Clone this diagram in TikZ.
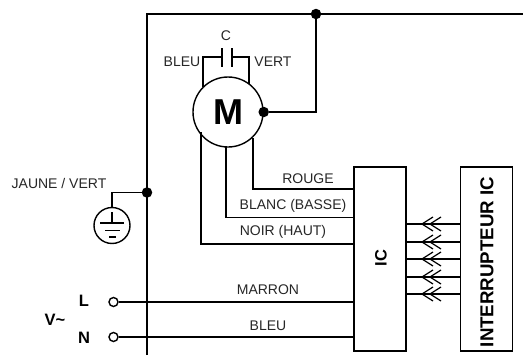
\documentclass[tikz,border=0pt]{standalone}
\usepackage{fontspec}
\setmainfont{Liberation Sans}
\tikzset{
  wire/.style={line width=1.4pt},
  lbl/.style={inner sep=0pt,font=\fontsize{14}{16}\selectfont,text=black!85},
  boldlbl/.style={inner sep=0pt,font=\fontsize{16.5}{18}\selectfont\bfseries},
  jdot/.style={circle,fill=black,inner sep=0pt,minimum size=10.5pt},
  term/.style={circle,draw,wire,fill=white,inner sep=0pt,minimum size=9pt},
  unit/.style={draw,wire,fill=white,minimum width=52pt,minimum height=184pt,inner sep=0pt}
}
\begin{document}
\begin{tikzpicture}[x=1pt,y=-1pt]
  \useasboundingbox (0,0) rectangle (523,359);
  % frame
  \coordinate (frameend) at (147,355);
  \coordinate (frametop) at (147,14);
  \coordinate (frameright) at (523,14);
  \draw [wire] (frameend) -- (frametop) -- (frameright);
  \node [jdot] (topdot) at (316,14) {};
  \node [jdot] (earthdot) at (147,192.5) {};

  % motor
  \node [draw,wire,circle,fill=white,minimum size=70pt,inner sep=0pt,font=\fontsize{36}{40}\selectfont\bfseries] (motor) at (228,112) {M};
  \node [jdot] (motordot) at (motor.east) {};
  \draw [wire] (motordot) -| (topdot);

  % capacitor
  \coordinate (capl) at (222,57);
  \coordinate (capr) at (232,57);
  \draw [wire] (222,48) -- (222,67) (232,48) -- (232,67);
  \draw [wire] (capl) -| (203,86.5);
  \draw [wire] (capr) -| (249,84);
  \node [lbl] (clabel) at (226,36) {C};
  \node [lbl] (bleucap) at (182,62) {BLEU};
  \node [lbl] (vertcap) at (273,62) {VERT};

  % boxes
  \node [unit] (ic) at (380,259) {};
  \node [boldlbl,rotate=90] (iclabel) at (381,258) {IC};
  \node [unit] (switch) at (486.5,259) {};
  \node [inner sep=0pt,rotate=90,font=\fontsize{18.7}{20}\selectfont\bfseries] (switchlabel) at (487,262) {INTERRUPTEUR IC};

  % motor to IC
  \draw [wire] (253,138) |- (354,189);
  \draw [wire] (226,147) |- (354,217.5);
  \draw [wire] (201,132) |- (354,244);
  \node [lbl] (rouge) at (308,179) {ROUGE};
  \node [lbl] (blanc) at (293,206) {BLANC (BASSE)};
  \node [lbl] (noir) at (283,232) {NOIR (HAUT)};

  % switch to IC
  \foreach \y in {224,242,259,277,294} {
    \coordinate (tip\y) at (422,\y);
    \draw [wire] (switch.west |- tip\y) -- (ic.east |- tip\y);
    \draw [line width=1.2pt] (433,\y-7) -- (tip\y) -- (433,\y+7);
    \draw [line width=1.2pt] (441,\y-7) -- (430,\y) -- (441,\y+7);
  }

  % earth
  \node [draw,wire,circle,minimum size=36pt,inner sep=0pt] (earth) at (112,225.5) {};
  \draw [wire] (earthdot) -| (earth.north);
  \draw [line width=1.2pt] (112,212) -- (112,223);
  \draw [line width=1.2pt] (100,223) -- (124,223) (105,230.5) -- (120,230.5) (109,237) -- (116,237);
  \node [lbl] (jaune) at (59,183) {JAUNE / VERT};

  % mains
  \node [term] (lterm) at (113.5,302) {};
  \node [term] (nterm) at (113.5,337) {};
  \draw [wire] (lterm) -- (ic.west |- lterm);
  \draw [wire] (nterm) -- (ic.west |- nterm);
  \node [lbl] (marron) at (268,290) {MARRON};
  \node [lbl] (bleu) at (268,326) {BLEU};
  \node [boldlbl] (l) at (84,301) {L};
  \node [boldlbl] (n) at (84,338) {N};
  \node [boldlbl] (v) at (55,320) {V\char`~};
\end{tikzpicture}
\end{document}
